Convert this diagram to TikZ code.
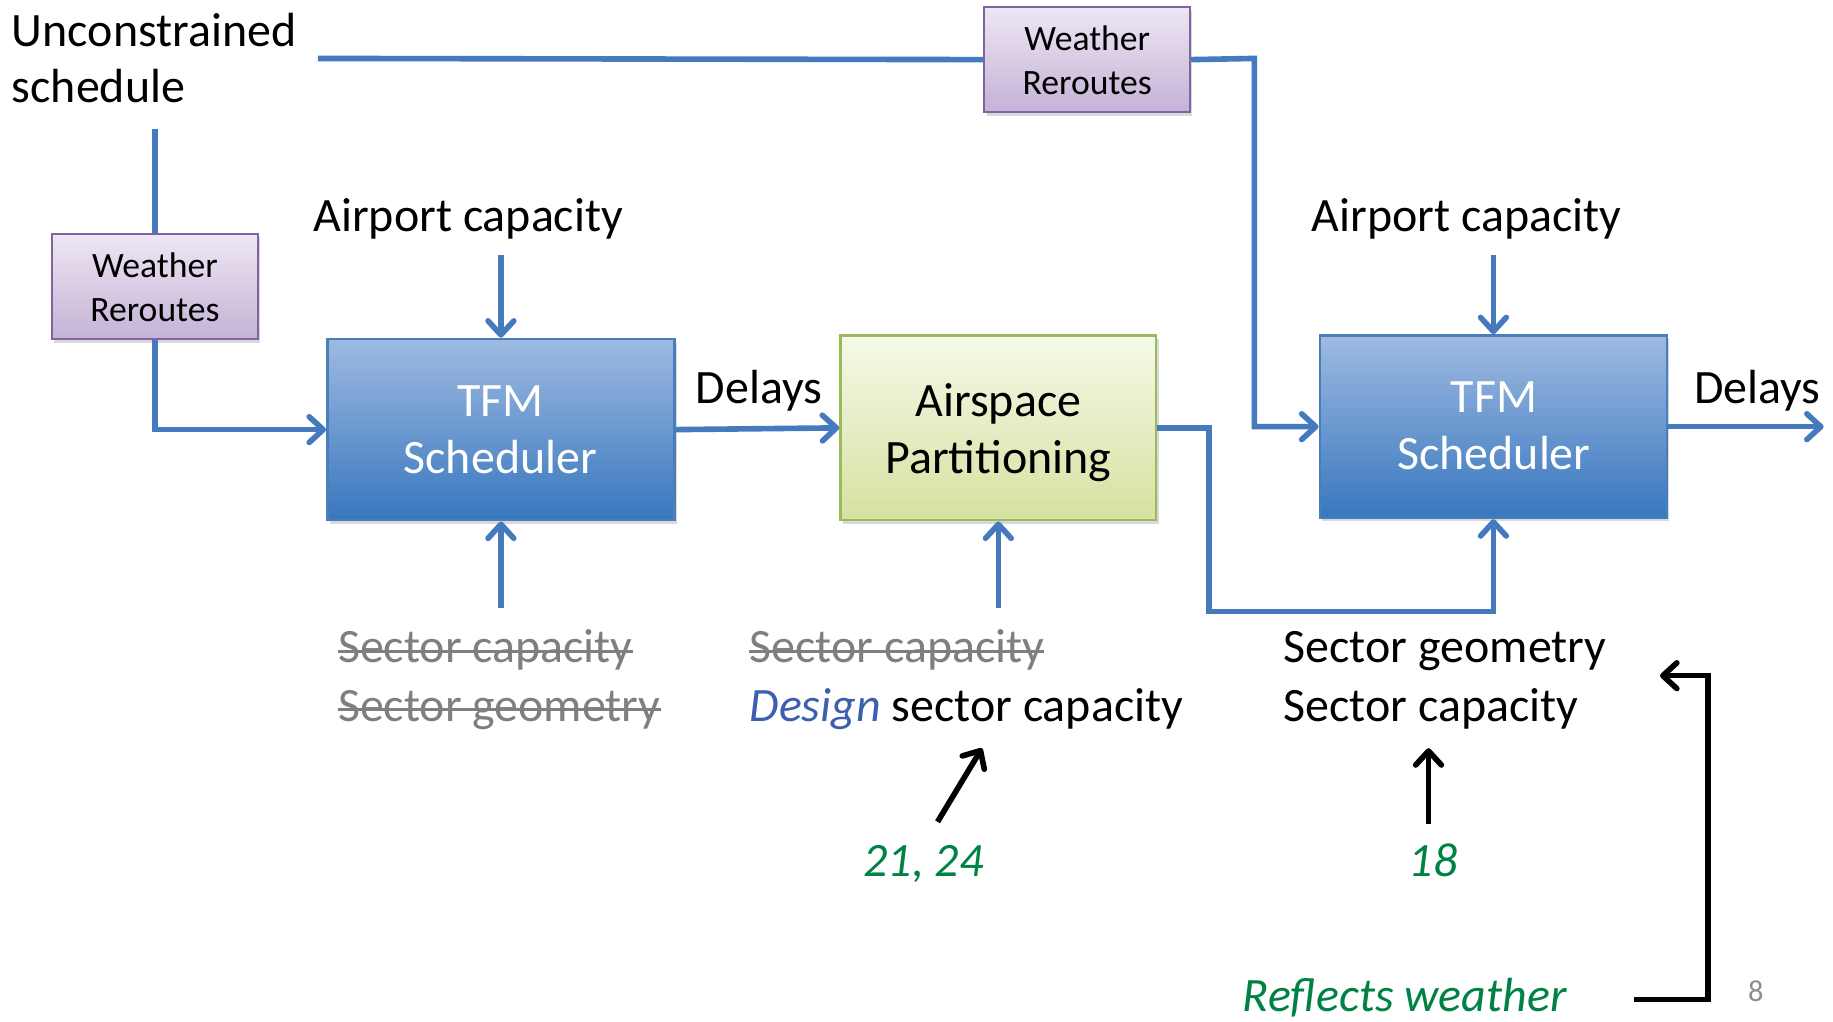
\documentclass[tikz,border=0pt]{standalone}
\usepackage{fontspec}
\setmainfont{Carlito}
\usetikzlibrary{arrows.meta,shadows}
\definecolor{lineblue}{RGB}{70,122,190}
\definecolor{tfmtop}{RGB}{158,186,225}
\definecolor{tfmbot}{RGB}{56,119,190}
\definecolor{tfmborder}{RGB}{74,126,187}
\definecolor{asptop}{RGB}{245,249,232}
\definecolor{aspbot}{RGB}{213,226,160}
\definecolor{aspborder}{RGB}{155,187,89}
\definecolor{wrtop}{RGB}{238,231,243}
\definecolor{wrbot}{RGB}{196,178,214}
\definecolor{wrborder}{RGB}{128,100,162}
\definecolor{strikegray}{RGB}{127,127,127}
\definecolor{designblue}{RGB}{62,94,176}
\definecolor{refgreen}{RGB}{0,130,68}
\definecolor{pagegray}{RGB}{140,140,140}
\begin{document}
\begin{tikzpicture}[x=1pt,y=-1pt,
  lbl/.style={font=\fontsize{41}{49}\selectfont, inner sep=0pt},
  smalllbl/.style={font=\fontsize{30.5}{38}\selectfont, inner sep=0pt},
  shadowed/.style={drop shadow={opacity=0.3, shadow xshift=2pt, shadow yshift=-3pt}},
  tfmbox/.style={draw=tfmborder, line width=2.2pt, top color=tfmtop, bottom color=tfmbot, shadowed, inner sep=0pt, minimum width=297pt},
  aspbox/.style={draw=aspborder, line width=2.2pt, top color=asptop, bottom color=aspbot, shadowed, inner sep=0pt, minimum width=270pt, minimum height=158pt},
  wrbox/.style={draw=wrborder, line width=2pt, top color=wrtop, bottom color=wrbot, shadowed, inner sep=0pt, minimum width=176pt, minimum height=90pt},
  bline/.style={draw=lineblue, line width=4.8pt},
  barr/.style={bline, -{Straight Barb[length=12pt,width=22pt,round]}},
  karr/.style={draw=black, line width=4.8pt, -{Straight Barb[length=12pt,width=22pt,round]}},
  strike/.style={draw=strikegray, line width=2.8pt},
  struck/.style={lbl, text=strikegray, anchor=base west},
  ital/.style={lbl, text=refgreen, font=\fontsize{41}{49}\selectfont\itshape}
]
\useasboundingbox (0,0) rectangle (1568,874);

% boxes
\node[wrbox] (wr1) at (132.5,245) {};
\node[wrbox] (wr2) at (930,51) {};
\node[tfmbox, minimum height=155pt] (tfm1) at (428.5,367.5) {};
\node[aspbox] (asp) at (854,366) {};
\node[tfmbox, minimum height=156pt] (tfm2) at (1277.5,365) {};

% box texts
\node[smalllbl, anchor=base] (wr1a) at (132.5,237) {Weather};
\node[smalllbl, anchor=base] (wr1b) at (132.5,275) {Reroutes};
\node[smalllbl, anchor=base] (wr2a) at (930,43) {Weather};
\node[smalllbl, anchor=base] (wr2b) at (930,81) {Reroutes};
\node[lbl, text=white, anchor=base] (tfm1a) at (428,356) {TFM};
\node[lbl, text=white, anchor=base] (tfm1b) at (428,405) {Scheduler};
\node[lbl, anchor=base] (aspa) at (854,356) {Airspace};
\node[lbl, anchor=base] (aspb) at (854,405) {Partitioning};
\node[lbl, text=white, anchor=base] (tfm2a) at (1278,353) {TFM};
\node[lbl, text=white, anchor=base] (tfm2b) at (1278,402) {Scheduler};

% labels
\node[lbl, anchor=base west] (unc1) at (10,40) {Unconstrained};
\node[lbl, anchor=base west] (unc2) at (10,88) {schedule};
\node[lbl, anchor=base west] (ac1) at (268,198) {Airport capacity};
\node[lbl, anchor=base west] (ac2) at (1122,198) {Airport capacity};
\node[lbl, anchor=base west] (d1) at (595,345) {Delays};
\node[lbl, anchor=base west] (d2) at (1449,345) {Delays};

\node[struck] (sc1) at (289,567) {Sector capacity};
\node[struck] (sg1) at (289,617) {Sector geometry};
\node[struck] (sc2) at (641,567) {Sector capacity};
\node[lbl, anchor=base west] (dsc) at (641,617) {\textcolor{designblue}{\itshape Design} sector capacity};
\node[lbl, anchor=base west] (sg3) at (1098,567) {Sector geometry};
\node[lbl, anchor=base west] (sc3) at (1098,617) {Sector capacity};

\node[ital, anchor=base] (n2124) at (790,750) {21, 24};
\node[ital, anchor=base] (n18) at (1226,750) {18};
\node[ital, anchor=base west] (refl) at (1063,865) {Reflects weather};
\node[inner sep=0pt, font=\fontsize{26}{30}\selectfont, text=pagegray, anchor=base] (pg) at (1502,857) {8};

% strike lines
\foreach \n in {sc1,sg1,sc2}
  \draw[strike] ([yshift=10pt]\n.base west) -- ([yshift=10pt]\n.base east);

% coordinates
\coordinate (topstart) at (272,50);
\coordinate (topturn) at (1073,50);
\coordinate (topdown) at (1073,365);
\coordinate (leftstart) at (132.5,110);
\coordinate (leftturn) at (132.5,367.5);
\coordinate (ac1s) at (428.5,218);
\coordinate (ac2s) at (1277.5,218);
\coordinate (sec1s) at (428.5,520);
\coordinate (sec2s) at (854,520);
\coordinate (aspr) at (1034,366);
\coordinate (aspd) at (1034,523);
\coordinate (aspc) at (1277.5,523);
\coordinate (dout) at (1560,365);
\coordinate (k1s) at (802,703);
\coordinate (k1e) at (840,640);
\coordinate (k2s) at (1222,705);
\coordinate (k2e) at (1222,640);
\coordinate (rfs) at (1398,855);
\coordinate (rfc) at (1461,855);
\coordinate (rfu) at (1461,578);
\coordinate (rfe) at (1420,578);

% blue connectors
\draw[bline] (topstart) -- (wr2.west);
\draw[barr] (wr2.east) -- (topturn) -- (topdown) -- (tfm2.west);
\draw[bline] (leftstart) -- (wr1.north);
\draw[barr] (wr1.south) -- (leftturn) -- (tfm1.west);
\draw[barr] (ac1s) -- (tfm1.north);
\draw[barr] (sec1s) -- (tfm1.south);
\draw[barr] (tfm1.east) -- (asp.west);
\draw[barr] (sec2s) -- (asp.south);
\draw[barr] (asp.east) -- (aspr) -- (aspd) -- (aspc) -- (tfm2.south);
\draw[barr] (ac2s) -- (tfm2.north);
\draw[barr] (tfm2.east) -- (dout);

% black connectors
\draw[karr] (k1s) -- (k1e);
\draw[karr] (k2s) -- (k2e);
\draw[karr] (rfs) -- (rfc) -- (rfu) -- (rfe);
\end{tikzpicture}
\end{document}
